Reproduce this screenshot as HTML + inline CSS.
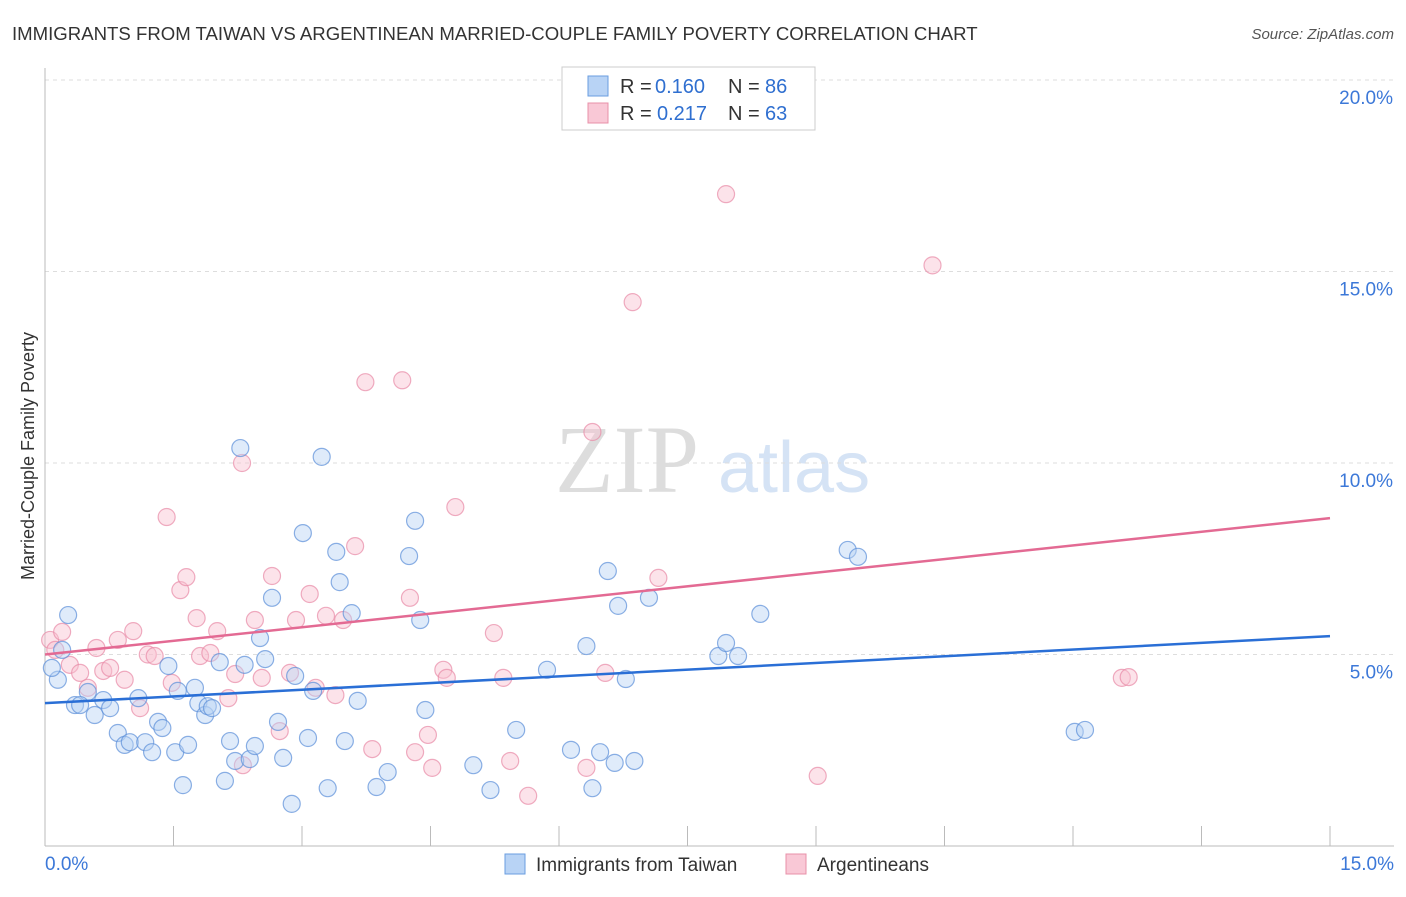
<!DOCTYPE html>
<html><head><meta charset="utf-8"><style>
body{margin:0;background:#fff;font-family:"Liberation Sans",sans-serif}
</style></head><body>
<svg id="c" width="1406" height="892" xmlns="http://www.w3.org/2000/svg">
<text x="12" y="40" font-size="18.6" fill="#333">IMMIGRANTS FROM TAIWAN VS ARGENTINEAN MARRIED-COUPLE FAMILY POVERTY CORRELATION CHART</text>
<text x="1394" y="39" font-size="15" fill="#555" font-style="italic" text-anchor="end">Source: ZipAtlas.com</text>
<text x="555" y="492" font-size="96" fill="#ddd" font-family="Liberation Serif">ZIP</text>
<text x="718" y="492" font-size="72" fill="#d5e3f5">atlas</text>
<text transform="translate(34,456) rotate(-90)" font-size="18" fill="#333" text-anchor="middle">Married-Couple Family Poverty</text>
<g id="grid"></g><g id="pts"></g><g id="lines"></g>
<g>
<rect x="562" y="67" width="253" height="63" fill="#fff" stroke="#ccc"/>
<rect x="588" y="76" width="20" height="20" fill="#b8d3f5" stroke="#6a9ee0"/>
<rect x="588" y="103" width="20" height="20" fill="#f9c8d6" stroke="#e890a8"/>
<text x="620" y="93" font-size="20" fill="#333">R =</text><text x="655" y="93" font-size="20" fill="#2f6fd0">0.160</text>
<text x="728" y="93" font-size="20" fill="#333">N =</text><text x="765" y="93" font-size="20" fill="#2f6fd0">86</text>
<text x="620" y="120" font-size="20" fill="#333">R =</text><text x="657" y="120" font-size="20" fill="#2f6fd0">0.217</text>
<text x="728" y="120" font-size="20" fill="#333">N =</text><text x="765" y="120" font-size="20" fill="#2f6fd0">63</text>
</g>
<g>
<rect x="505" y="854" width="20" height="20" fill="#b8d3f5" stroke="#6a9ee0"/>
<text x="536" y="871" font-size="19" fill="#333">Immigrants from Taiwan</text>
<rect x="786" y="854" width="20" height="20" fill="#f9c8d6" stroke="#e890a8"/>
<text x="817" y="871" font-size="19" fill="#333">Argentineans</text>
</g>
</svg>
<script>
const yTicks=[5,10,15,20];
const xTickLabels=["0.0%","15.0%"];
const blueX=[0.27,0.2,0.15,0.08,0.5,0.35,0.41,0.58,0.68,0.76,0.85,0.93,0.99,1.09,1.17,1.25,1.32,1.37,1.44,1.52,1.55,1.61,1.67,1.75,1.79,1.87,1.90,1.95,2.04,2.10,2.16,2.22,2.28,2.33,2.39,2.45,2.51,2.57,2.65,2.72,2.78,2.88,2.92,3.01,3.07,3.13,3.23,3.30,3.40,3.44,3.50,3.58,3.65,3.87,4.0,4.25,4.32,4.38,4.44,5.0,5.2,5.5,5.86,6.14,6.32,6.39,6.48,6.57,6.65,6.69,6.78,6.88,7.05,7.86,7.95,8.09,8.35,9.37,9.49,12.02,12.14];
const blueY=[6.03,5.12,4.34,4.65,4.02,3.68,3.68,3.42,3.81,3.6,2.95,2.64,2.71,3.86,2.71,2.45,3.24,3.08,4.7,2.45,4.05,1.59,2.64,4.13,3.73,3.42,3.65,3.6,4.8,1.7,2.74,2.22,10.39,4.73,2.27,2.61,5.43,4.88,6.48,3.24,2.3,1.1,4.44,8.17,2.82,4.05,10.16,1.51,7.68,6.89,2.74,6.08,3.79,1.54,1.93,7.57,8.49,5.9,3.55,2.11,1.46,3.03,4.6,2.51,5.22,1.51,2.45,7.18,2.17,6.27,4.36,2.22,6.48,4.96,5.3,4.96,6.06,7.73,7.55,2.98,3.03];
const pinkX=[0.06,0.12,0.2,0.29,0.41,0.5,0.6,0.68,0.76,0.85,0.93,1.03,1.11,1.2,1.28,1.42,1.48,1.58,1.65,1.77,1.81,1.93,2.01,2.14,2.22,2.3,2.31,2.45,2.53,2.65,2.74,2.86,2.93,3.09,3.16,3.28,3.39,3.48,3.62,3.74,3.82,4.17,4.26,4.32,4.47,4.52,4.65,4.69,4.79,5.24,5.35,5.43,5.64,6.32,6.39,6.54,6.86,7.16,7.95,9.02,10.36,12.57,12.65];
const pinkY=[5.38,5.12,5.59,4.73,4.52,4.13,5.17,4.57,4.65,5.38,4.34,5.61,3.6,5.0,4.96,8.59,4.26,6.68,7.02,5.95,4.96,5.04,5.61,3.86,4.49,10.0,2.11,5.9,4.39,7.05,3.0,4.52,5.9,6.58,4.13,6.01,3.94,5.9,7.83,12.11,2.53,12.16,6.48,2.45,2.9,2.04,4.6,4.39,8.85,5.56,4.39,2.22,1.31,2.04,10.81,4.52,14.2,7.0,17.02,1.83,15.16,4.39,4.41];
const blueTrend=[3.73,5.48], pinkTrend=[5.0,8.56];
const X=v=>45+v*(1285/15), Y=v=>846-v*38.3;
const NS="http://www.w3.org/2000/svg";
function mk(t,a,p){const e=document.createElementNS(NS,t);for(const k in a)e.setAttribute(k,a[k]);p.appendChild(e);return e;}
const svg=document.getElementById('c'),grid=document.getElementById('grid'),pts=document.getElementById('pts'),lines=document.getElementById('lines');
yTicks.forEach(t=>{
 const l=mk('line',{x1:45,x2:1394,y1:Y(t),y2:Y(t),stroke:'#ddd','stroke-dasharray':'4,4'},grid);
 
 
 const tx=mk('text',{x:1393,y:Y(t)+24,'font-size':19,fill:'#3c78d8','text-anchor':'end'},grid);
 tx.textContent=t.toFixed(1)+'%';
 
 
});
const ax=mk('line',{x1:45,x2:45,y1:68,y2:846,stroke:'#bbb'},grid);


const bx=mk('line',{x1:45,x2:1394,y1:846,y2:846,stroke:'#bbb'},grid);


for(let i=0;i<=10;i++){const t=mk('line',{x1:X(i*1.5),x2:X(i*1.5),y1:826,y2:846,stroke:'#bbb'},grid);
 
 }
[[45,'start',0],[1394,'end',1]].forEach(([x,a,i])=>{const t=mk('text',{x:x,y:870,'font-size':19,fill:'#3c78d8','text-anchor':a},grid);t.textContent=xTickLabels[i];
 
 });
function dots(xs,ys,fill,stroke,name){xs.forEach((x,i)=>{const c=mk('circle',{cx:X(x),cy:Y(ys[i]),r:8.5,fill:fill,'fill-opacity':0.45,stroke:stroke,'stroke-width':1.2,'stroke-opacity':0.7},pts);
 
 });}
dots(pinkX,pinkY,'#f9c0d0','#e88aa6','argentinean-point');
dots(blueX,blueY,'#b8d3f5','#5b8fd8','taiwan-point');
const bl=mk('line',{x1:X(0),y1:Y(blueTrend[0]),x2:X(15),y2:Y(blueTrend[1]),stroke:'#2a6fd6','stroke-width':2.5},lines);


const pl=mk('line',{x1:X(0),y1:Y(pinkTrend[0]),x2:X(15),y2:Y(pinkTrend[1]),stroke:'#e36a93','stroke-width':2.5},lines);


</script>
</body></html>
